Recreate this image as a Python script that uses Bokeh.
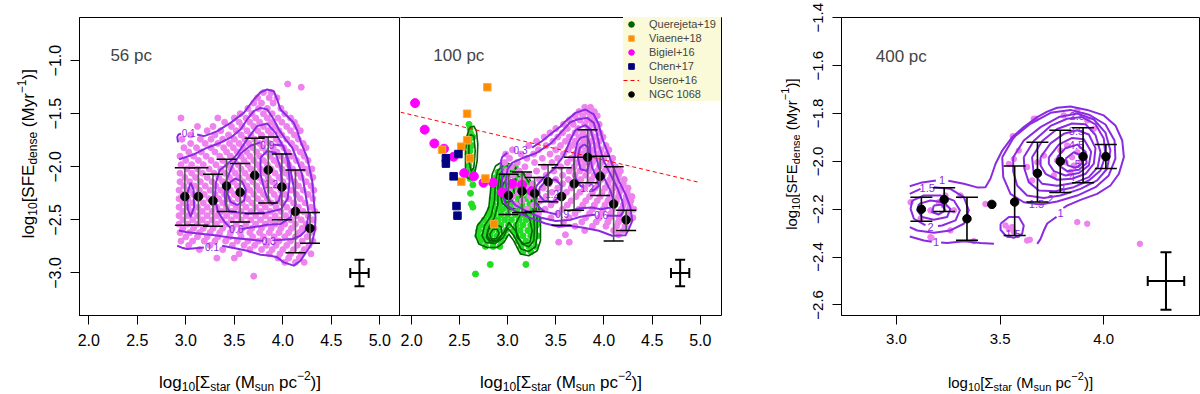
import numpy as np
from bokeh.plotting import figure
from bokeh.models import (ColumnDataSource, Whisker, TeeHead, Label, Legend, LegendItem,
                          FixedTicker, CustomJSTickFormatter, LinearAxis)
from bokeh.layouts import row, column
from bokeh.embed import file_html
from bokeh.resources import INLINE
from bokeh.core.properties import value

FONT = "Liberation Sans"
PINK = "#EE82EE"
PURPLE = "#8A2BE2"
DKGREEN = "#006400"
LTGREEN = "#22DD22"

# ---------------- data: binned NGC 1068 values ----------------
p1_bin_x = [2.99, 3.13, 3.28, 3.42, 3.56, 3.71, 3.85, 3.99, 4.13, 4.28]
p1_bin_y = [-2.28, -2.28, -2.32, -2.18, -2.24, -2.08, -2.03, -2.19, -2.42, -2.58]
p1_err_hi = [-2.01, -2.01, -2.07, -1.93, -1.97, -1.73, -1.72, -1.88, -2.03, -2.43]
p1_err_lo = [-2.55, -2.55, -2.56, -2.42, -2.52, -2.44, -2.34, -2.50, -2.81, -2.72]

p2_bin_x = [3.01, 3.15, 3.28, 3.42, 3.56, 3.69, 3.83, 3.96, 4.10, 4.23]
p2_bin_y = [-2.27, -2.23, -2.25, -2.14, -2.28, -2.16, -1.91, -2.09, -2.35, -2.50]
p2_err_hi = [-2.07, -2.05, -2.10, -1.98, -2.01, -1.91, -1.65, -1.90, -2.00, -2.41]
p2_err_lo = [-2.45, -2.43, -2.42, -2.33, -2.55, -2.41, -2.15, -2.27, -2.70, -2.60]

p3_bin_x = [3.12, 3.23, 3.34, 3.46, 3.57, 3.68, 3.79, 3.90, 4.01]
p3_bin_y = [-2.20, -2.16, -2.24, -2.18, -2.17, -2.05, -2.00, -1.98, -1.98]
p3_err_x = [3.12, 3.23, 3.34, 3.57, 3.68, 3.79, 3.90, 4.01]
p3_err_hi = [-2.15, -2.11, -2.15, -2.02, -1.92, -1.87, -1.86, -1.93]
p3_err_lo = [-2.25, -2.21, -2.33, -2.31, -2.17, -2.13, -2.09, -2.03]

# typical uncertainty crosses
cross12 = dict(x=4.79, y=-3.0, dx=0.095, dy=0.125)
cross3 = dict(x=4.30, y=-2.50, dx=0.088, dy=0.12)

# ---------------- literature data (100 pc panel) ----------------
bigiel_x = [2.04, 2.14, 2.24, 2.34, 2.44, 2.55, 2.65, 2.75, 2.85, 2.94, 3.05, 3.15, 3.25]
bigiel_y = [-1.40, -1.65, -1.78, -1.83, -1.905, -2.06, -2.09, -2.15, -2.15, -2.24, -2.16, -2.17, -2.23]
viaene_x = [2.79, 2.58, 2.58, 2.52, 2.32, 2.61, 2.52, 2.77, 2.86]
viaene_y = [-1.25, -1.50, -1.75, -1.81, -1.84, -1.92, -2.14, -2.11, -2.54]
chen_x = [2.49, 2.36, 2.36, 2.44, 2.47, 2.48]
chen_y = [-1.88, -1.92, -1.97, -2.09, -2.37, -2.46]
usero_x = [1.89, 4.97]
usero_y = [-1.486, -2.143]

quer_strip_x = [2.60, 2.61, 2.62, 2.60, 2.63, 2.61, 2.59, 2.62, 2.60, 2.63, 2.61, 2.64, 2.615, 2.625, 2.64, 2.667, 2.58, 2.64, 2.58]
quer_strip_y = [-1.60, -1.64, -1.69, -1.75, -1.80, -1.85, -1.88, -1.93, -1.99, -2.04, -2.11, -2.17, -2.25, -2.35, -2.38, -3.01, -1.80, -1.72, -2.05]
quer_rows = [
    (-2.00, [2.95, 3.02, 3.08]),
    (-2.05, [2.90, 2.97, 3.05, 3.12]),
    (-2.10, [2.88, 2.94, 3.00, 3.08, 3.16]),
    (-2.15, [2.86, 2.92, 2.99, 3.05, 3.13, 3.20]),
    (-2.20, [2.85, 2.91, 2.97, 3.03, 3.10, 3.18, 3.25]),
    (-2.25, [2.86, 2.93, 3.00, 3.07, 3.14, 3.22, 3.28]),
    (-2.30, [2.84, 2.90, 2.96, 3.03, 3.11, 3.19, 3.27]),
    (-2.35, [2.85, 2.92, 2.99, 3.06, 3.15, 3.23, 3.30]),
    (-2.40, [2.82, 2.89, 2.95, 3.02, 3.10, 3.18, 3.26, 3.31]),
    (-2.45, [2.80, 2.86, 2.93, 3.00, 3.08, 3.15, 3.22, 3.29]),
    (-2.50, [2.76, 2.83, 2.90, 2.97, 3.04, 3.12, 3.19, 3.27, 3.32]),
    (-2.55, [2.72, 2.79, 2.86, 2.93, 3.01, 3.09, 3.16, 3.24, 3.30]),
    (-2.60, [2.70, 2.77, 2.84, 2.91, 2.98, 3.06, 3.13, 3.21, 3.28]),
    (-2.65, [2.69, 2.75, 2.82, 2.89, 2.96, 3.09, 3.16, 3.24, 3.31]),
    (-2.70, [2.72, 2.79, 2.86, 2.93, 3.11, 3.19, 3.27]),
    (-2.75, [2.77, 2.85, 2.92, 3.14, 3.22, 3.29]),
    (-2.80, [3.16, 3.24]),
    (-2.92, [2.82, 3.19]),
]

# ---------------- NGC 1068 pixel values (pink clouds) ----------------
p1_pink_rows = [
    (-1.22, [4.05]), (-1.25, [4.19]), (-1.30, [3.80, 3.88]),
    (-1.35, [3.74, 3.86, 3.94]), (-1.40, [3.70, 3.78, 3.90]),
    (-1.45, [3.64, 3.75, 3.84, 3.98]), (-1.50, [3.56, 3.68, 3.80, 3.89, 4.02]),
    (-1.54, [2.95, 3.33, 3.50, 3.62, 3.72, 3.84, 3.95, 4.08]),
    (-1.58, [3.40, 3.55, 3.66, 3.76, 3.88, 3.99, 4.12]),
    (-1.62, [3.12, 3.28, 3.47, 3.58, 3.70, 3.80, 3.92, 4.04, 4.14]),
    (-1.66, [3.22, 3.36, 3.52, 3.63, 3.74, 3.85, 3.96, 4.08, 4.18]),
    (-1.70, [3.05, 3.30, 3.44, 3.57, 3.67, 3.78, 3.88, 3.99, 4.12]),
    (-1.74, [2.96, 3.15, 3.26, 3.38, 3.50, 3.61, 3.71, 3.82, 3.93, 4.04, 4.16]),
    (-1.78, [3.05, 3.20, 3.33, 3.45, 3.55, 3.65, 3.76, 3.86, 3.97, 4.09, 4.21]),
    (-1.82, [2.98, 3.11, 3.26, 3.39, 3.49, 3.59, 3.69, 3.79, 3.90, 4.01, 4.13, 4.24]),
    (-1.86, [3.03, 3.16, 3.30, 3.42, 3.53, 3.63, 3.73, 3.83, 3.94, 4.05, 4.18]),
    (-1.90, [2.94, 3.08, 3.21, 3.35, 3.46, 3.57, 3.66, 3.76, 3.87, 3.98, 4.09, 4.22]),
    (-1.94, [3.00, 3.13, 3.26, 3.38, 3.50, 3.60, 3.70, 3.80, 3.91, 4.02, 4.14, 4.26]),
    (-1.98, [2.95, 3.06, 3.18, 3.31, 3.43, 3.54, 3.64, 3.74, 3.84, 3.95, 4.06, 4.19]),
    (-2.02, [3.01, 3.12, 3.24, 3.36, 3.47, 3.57, 3.67, 3.77, 3.88, 3.99, 4.10, 4.23, 4.30]),
    (-2.06, [2.94, 3.06, 3.17, 3.29, 3.40, 3.51, 3.61, 3.71, 3.81, 3.92, 4.03, 4.15, 4.27]),
    (-2.10, [2.99, 3.10, 3.22, 3.34, 3.45, 3.55, 3.65, 3.75, 3.85, 3.96, 4.07, 4.19, 4.31]),
    (-2.14, [2.94, 3.04, 3.15, 3.27, 3.38, 3.49, 3.59, 3.69, 3.79, 3.89, 4.00, 4.12, 4.24]),
    (-2.18, [2.98, 3.09, 3.20, 3.31, 3.42, 3.53, 3.63, 3.73, 3.83, 3.93, 4.04, 4.16, 4.29]),
    (-2.22, [2.93, 3.03, 3.14, 3.25, 3.36, 3.46, 3.56, 3.66, 3.76, 3.87, 3.98, 4.09, 4.21, 4.32]),
    (-2.26, [2.97, 3.08, 3.19, 3.30, 3.40, 3.50, 3.60, 3.70, 3.80, 3.91, 4.02, 4.14, 4.26]),
    (-2.30, [2.93, 3.02, 3.13, 3.24, 3.34, 3.44, 3.54, 3.64, 3.74, 3.84, 3.95, 4.06, 4.18, 4.31]),
    (-2.34, [2.97, 3.07, 3.18, 3.28, 3.38, 3.48, 3.58, 3.68, 3.78, 3.88, 3.99, 4.11, 4.23]),
    (-2.38, [2.93, 3.02, 3.12, 3.22, 3.32, 3.42, 3.52, 3.62, 3.72, 3.82, 3.93, 4.04, 4.16, 4.29]),
    (-2.42, [2.97, 3.07, 3.17, 3.27, 3.37, 3.47, 3.57, 3.67, 3.77, 3.87, 3.98, 4.09, 4.21, 4.33]),
    (-2.46, [2.93, 3.02, 3.12, 3.22, 3.32, 3.42, 3.52, 3.62, 3.72, 3.82, 3.92, 4.03, 4.14, 4.26]),
    (-2.50, [2.97, 3.07, 3.17, 3.27, 3.37, 3.47, 3.57, 3.67, 3.77, 3.87, 3.97, 4.08, 4.19, 4.31]),
    (-2.54, [2.93, 3.02, 3.12, 3.22, 3.32, 3.42, 3.52, 3.62, 3.72, 3.82, 3.92, 4.02, 4.13, 4.24]),
    (-2.58, [2.97, 3.08, 3.18, 3.28, 3.38, 3.48, 3.58, 3.68, 3.78, 3.88, 3.98, 4.09, 4.20, 4.32]),
    (-2.62, [2.94, 3.04, 3.14, 3.25, 3.35, 3.46, 3.56, 3.66, 3.76, 3.86, 3.96, 4.06, 4.17, 4.28]),
    (-2.66, [3.00, 3.12, 3.22, 3.33, 3.45, 3.57, 3.69, 3.80, 3.91, 4.02, 4.13, 4.25]),
    (-2.70, [2.95, 3.07, 3.19, 3.30, 3.41, 3.53, 3.64, 3.75, 3.85, 3.96, 4.08, 4.20, 4.31]),
    (-2.74, [3.03, 3.25, 3.48, 3.60, 3.71, 3.83, 3.93, 4.04, 4.15, 4.27]),
    (-2.78, [3.14, 3.38, 3.66, 3.78, 3.89, 4.00, 4.11, 4.22]),
    (-2.82, [3.55, 3.86, 3.97, 4.08, 4.19, 4.29]),
    (-2.86, [3.32, 3.50, 3.95, 4.06, 4.17]),
    (-2.90, [4.02, 4.13, 4.22]),
    (-3.03, [3.70]),
]

p2_pink_rows = [
    (-1.44, [3.80, 3.86]), (-1.48, [3.74, 3.82, 3.90]),
    (-1.52, [3.70, 3.78, 3.86, 3.93]), (-1.56, [3.64, 3.75, 3.83, 3.90]),
    (-1.60, [3.58, 3.68, 3.80, 3.88, 3.95]), (-1.64, [3.50, 3.62, 3.73, 3.84, 3.92]),
    (-1.68, [3.44, 3.57, 3.70, 3.78, 3.86, 3.96]),
    (-1.72, [3.38, 3.52, 3.64, 3.74, 3.82, 3.90, 3.99]),
    (-1.76, [3.30, 3.47, 3.60, 3.70, 3.79, 3.87, 3.95]),
    (-1.80, [3.22, 3.40, 3.55, 3.67, 3.76, 3.84, 3.92, 4.02]),
    (-1.84, [3.05, 3.32, 3.50, 3.63, 3.73, 3.81, 3.89, 3.97, 4.05]),
    (-1.88, [2.98, 3.14, 3.27, 3.44, 3.58, 3.70, 3.78, 3.86, 3.94, 4.03]),
    (-1.92, [3.02, 3.20, 3.36, 3.52, 3.66, 3.76, 3.83, 3.91, 4.00, 4.09]),
    (-1.96, [2.97, 3.10, 3.28, 3.46, 3.62, 3.73, 3.80, 3.88, 3.97, 4.07]),
    (-2.00, [3.04, 3.18, 3.38, 3.55, 3.69, 3.78, 3.86, 3.95, 4.04, 4.12]),
    (-2.04, [2.99, 3.12, 3.30, 3.48, 3.64, 3.75, 3.84, 3.93, 4.01, 4.10, 4.17]),
    (-2.08, [3.06, 3.22, 3.40, 3.57, 3.70, 3.81, 3.90, 3.99, 4.08, 4.15]),
    (-2.12, [3.00, 3.15, 3.33, 3.50, 3.63, 3.76, 3.87, 3.97, 4.06, 4.14, 4.21]),
    (-2.16, [3.08, 3.26, 3.43, 3.57, 3.71, 3.84, 3.94, 4.04, 4.12, 4.20]),
    (-2.20, [3.02, 3.19, 3.37, 3.52, 3.66, 3.80, 3.91, 4.01, 4.10, 4.18, 4.25]),
    (-2.24, [3.11, 3.30, 3.46, 3.61, 3.75, 3.88, 3.98, 4.08, 4.16, 4.24]),
    (-2.28, [3.05, 3.23, 3.40, 3.56, 3.71, 3.85, 3.96, 4.06, 4.15, 4.23, 4.29]),
    (-2.32, [3.15, 3.34, 3.50, 3.66, 3.81, 3.93, 4.04, 4.13, 4.22, 4.28]),
    (-2.36, [3.09, 3.27, 3.45, 3.62, 3.78, 3.90, 4.01, 4.11, 4.20, 4.27]),
    (-2.40, [3.20, 3.39, 3.57, 3.74, 3.88, 3.99, 4.09, 4.18, 4.26, 4.31]),
    (-2.44, [3.32, 3.52, 3.70, 3.85, 3.97, 4.07, 4.17, 4.25]),
    (-2.48, [3.45, 3.64, 3.81, 3.95, 4.06, 4.16, 4.24, 4.30]),
    (-2.52, [3.58, 3.77, 3.92, 4.04, 4.15, 4.23]),
    (-2.56, [3.70, 3.88, 4.02, 4.13, 4.22]),
    (-2.60, [3.80, 4.10, 4.20]),
    (-2.64, [3.60, 4.15]),
    (-2.71, [3.53, 3.64]),
]

p3_pink_x = [3.068, 3.116, 3.164, 3.204, 3.236, 3.228, 3.260, 3.277, 3.164, 3.309, 3.429, 3.453,
             3.526, 3.542, 3.558, 3.566, 3.630, 3.542, 3.566, 3.590, 3.630, 3.654, 3.662, 3.679,
             3.711, 3.759, 3.775, 3.791, 3.815, 3.823, 3.847, 3.855, 3.872, 3.888, 3.839, 3.807,
             3.872, 3.920, 3.952, 3.872, 3.920, 4.174, 3.561, 3.671, 3.643, 3.169, 3.373]
p3_pink_y = [-2.171, -2.240, -2.205, -2.171, -2.143, -2.185, -2.289, -2.205, -2.317, -2.143, -2.178, -2.178,
             -2.268, -2.282, -2.275, -2.294, -2.331, -2.011, -1.990, -1.955, -2.024, -2.080, -1.822, -2.004,
             -1.976, -2.059, -1.997, -1.955, -2.004, -1.934, -1.983, -2.018, -1.962, -2.004, -2.045, -1.808,
             -1.787, -1.829, -1.864, -2.254, -2.261, -2.345, -1.895, -1.822, -2.328, -2.320, -2.334]

# ---------------- density contours (level, path) ----------------
p1_contours = [
    (0.1, [(2.920, -1.770), (2.912, -1.720), (2.925, -1.695), (2.950, -1.688)]),
    (0.1, [(3.117, -1.695), (3.186, -1.711), (3.255, -1.690), (3.324, -1.664), (3.461, -1.586), (3.598, -1.492),
           (3.701, -1.366), (3.770, -1.298), (3.839, -1.272), (3.907, -1.288), (3.942, -1.366), (3.976, -1.460),
           (4.045, -1.523), (4.113, -1.586), (4.148, -1.660), (4.182, -1.758), (4.251, -1.915), (4.303, -2.133),
           (4.320, -2.321), (4.337, -2.477), (4.330, -2.600), (4.300, -2.720), (4.251, -2.791), (4.182, -2.885),
           (4.113, -2.931), (4.010, -2.900), (3.942, -2.853), (3.873, -2.838), (3.770, -2.828), (3.633, -2.791),
           (3.495, -2.765), (3.375, -2.744)]),
    (0.1, [(3.186, -2.760), (3.100, -2.768), (3.014, -2.775), (2.960, -2.762), (2.911, -2.744)]),
    (0.3, [(2.930, -2.600), (3.000, -2.615), (3.150, -2.630), (3.300, -2.645), (3.450, -2.665), (3.600, -2.680),
           (3.750, -2.695), (3.800, -2.697)]),
    (0.3, [(3.910, -2.692), (4.000, -2.688), (4.100, -2.680), (4.182, -2.650), (4.234, -2.603), (4.268, -2.446),
           (4.234, -2.258), (4.199, -2.070), (4.131, -1.898), (4.096, -1.820), (4.028, -1.742), (3.959, -1.648),
           (3.907, -1.554), (3.839, -1.460), (3.770, -1.445), (3.701, -1.476), (3.632, -1.554), (3.564, -1.648),
           (3.461, -1.726), (3.357, -1.773), (3.220, -1.820), (3.083, -1.883), (2.979, -1.915), (2.930, -1.930)]),
    (0.6, [(3.580, -2.585), (3.650, -2.575), (3.760, -2.560), (3.838, -2.546), (3.976, -2.540), (4.079, -2.477),
           (4.131, -2.352), (4.113, -2.196), (4.062, -1.945), (4.010, -1.820), (3.924, -1.679), (3.839, -1.592),
           (3.735, -1.617), (3.632, -1.742), (3.529, -1.883), (3.426, -1.977), (3.350, -2.030), (3.310, -2.150),
           (3.300, -2.300), (3.330, -2.420), (3.400, -2.520), (3.460, -2.575)]),
    (0.6, [(3.050, -2.150), (3.080, -2.220), (3.085, -2.380), (3.050, -2.470), (3.020, -2.400), (3.015, -2.250),
           (3.050, -2.150)]),
    (0.9, [(3.900, -1.790), (4.000, -1.800), (4.050, -1.940), (4.070, -2.130), (4.050, -2.300), (3.980, -2.400),
           (3.840, -2.430), (3.640, -2.440), (3.450, -2.420), (3.410, -2.360), (3.400, -2.250), (3.420, -2.120),
           (3.480, -1.990), (3.570, -1.870), (3.670, -1.800), (3.770, -1.770)]),
    (1.2, [(3.770, -1.914), (3.838, -1.851), (3.924, -1.867), (3.976, -2.008), (3.993, -2.196), (3.959, -2.321),
           (3.890, -2.352), (3.838, -2.290), (3.804, -2.196), (3.770, -2.070), (3.770, -1.914)]),
    (1.2, [(3.450, -2.150), (3.510, -2.110), (3.580, -2.140), (3.620, -2.220), (3.600, -2.320), (3.530, -2.360),
           (3.460, -2.330), (3.430, -2.250), (3.450, -2.150)]),
]
p1_clabels = [("0.1", 3.03, -1.68), ("0.1", 3.27, -2.755), ("0.3", 3.855, -2.70),
              ("0.6", 3.52, -2.588), ("0.9", 3.84, -1.79), ("1.2", 3.88, -2.16)]

p2_contours = [
    (0.3, [(2.930, -1.950), (2.944, -1.908), (2.996, -1.867)]),
    (0.3, [(3.255, -1.820), (3.359, -1.757), (3.463, -1.679), (3.549, -1.620), (3.601, -1.570), (3.704, -1.492),
           (3.808, -1.460), (3.894, -1.507), (3.946, -1.601), (3.981, -1.727), (4.033, -1.852), (4.085, -1.977),
           (4.154, -2.133), (4.223, -2.258), (4.275, -2.384), (4.293, -2.509), (4.257, -2.587), (4.223, -2.645),
           (4.085, -2.649), (3.947, -2.603), (3.774, -2.571), (3.636, -2.556), (3.532, -2.565), (3.393, -2.534),
           (3.221, -2.477), (3.082, -2.421), (2.979, -2.352), (2.937, -2.227), (2.944, -2.070), (2.930, -1.950)]),
    (0.6, [(3.000, -2.020), (3.050, -1.960), (3.150, -1.920), (3.300, -1.870), (3.450, -1.780), (3.580, -1.650),
           (3.650, -1.580), (3.722, -1.554), (3.826, -1.539), (3.894, -1.586), (3.929, -1.695), (3.957, -1.821),
           (3.998, -1.946), (4.067, -2.070), (4.137, -2.196), (4.189, -2.321), (4.206, -2.415), (4.171, -2.462),
           (4.067, -2.462), (4.030, -2.458)]),
    (0.6, [(3.910, -2.452), (3.877, -2.453), (3.756, -2.470), (3.650, -2.500), (3.500, -2.510), (3.350, -2.480),
           (3.200, -2.420), (3.080, -2.360), (3.000, -2.280), (2.980, -2.150), (3.000, -2.020)]),
    (0.9, [(3.739, -1.633), (3.808, -1.608), (3.860, -1.648), (3.894, -1.758), (3.912, -1.883), (3.946, -2.008),
           (4.016, -2.133), (4.067, -2.227), (4.102, -2.321), (4.067, -2.384), (3.964, -2.399), (3.877, -2.384),
           (3.750, -2.390), (3.620, -2.420)]),
    (0.9, [(3.510, -2.450), (3.380, -2.420), (3.300, -2.360), (3.270, -2.280), (3.300, -2.180), (3.380, -2.100),
           (3.480, -2.020), (3.580, -1.900), (3.650, -1.750), (3.700, -1.660), (3.739, -1.633)]),
    (1.2, [(3.756, -1.727), (3.826, -1.711), (3.853, -1.789), (3.860, -1.914), (3.877, -2.008), (3.929, -2.117),
           (3.946, -2.180), (3.894, -2.221), (3.870, -2.215)]),
    (1.2, [(3.780, -2.190), (3.756, -2.180), (3.704, -2.102), (3.687, -1.977), (3.704, -1.852), (3.722, -1.774),
           (3.756, -1.727)]),
    (1.2, [(3.330, -2.200), (3.400, -2.130), (3.500, -2.120), (3.560, -2.180), (3.550, -2.280), (3.470, -2.330),
           (3.380, -2.320), (3.330, -2.270), (3.330, -2.200)]),
    (1.5, [(3.791, -1.789), (3.843, -1.820), (3.853, -1.946), (3.826, -2.039), (3.756, -2.023), (3.729, -1.914),
           (3.749, -1.820), (3.791, -1.789)]),
]
p2_clabels = [("0.3", 3.134, -1.845), ("0.6", 3.970, -2.450), ("0.9", 3.566, -2.445),
              ("1.2", 3.826, -2.200), ("1.2", 3.463, -2.252)]

quer_contours = [
    [(2.944, -1.952), (2.875, -1.992), (2.840, -2.070), (2.823, -2.227), (2.805, -2.384), (2.753, -2.478),
     (2.685, -2.556), (2.667, -2.650), (2.701, -2.728), (2.788, -2.760), (2.892, -2.760), (2.961, -2.713),
     (3.012, -2.634), (3.064, -2.697), (3.134, -2.822), (3.220, -2.838), (3.307, -2.791), (3.341, -2.697),
     (3.341, -2.540), (3.324, -2.384), (3.289, -2.227), (3.220, -2.102), (3.134, -2.039), (3.030, -1.977),
     (2.944, -1.952)],
    [(2.961, -1.983), (2.899, -2.033), (2.874, -2.134), (2.864, -2.321), (2.829, -2.462), (2.760, -2.556),
     (2.736, -2.650), (2.771, -2.713), (2.874, -2.722), (2.954, -2.666), (3.002, -2.578), (3.065, -2.650),
     (3.141, -2.775), (3.220, -2.797), (3.289, -2.753), (3.307, -2.650), (3.307, -2.509), (3.289, -2.337),
     (3.248, -2.181), (3.168, -2.071), (3.065, -2.008), (2.961, -1.983)],
    [(2.968, -2.024), (2.919, -2.071), (2.899, -2.196), (2.899, -2.353), (2.864, -2.478), (2.805, -2.572),
     (2.788, -2.650), (2.822, -2.697), (2.892, -2.691), (2.961, -2.619), (3.013, -2.525), (3.082, -2.603),
     (3.151, -2.728), (3.220, -2.753), (3.272, -2.697), (3.279, -2.572), (3.265, -2.384), (3.220, -2.212),
     (3.134, -2.102), (3.047, -2.046), (2.968, -2.024)],
    [(2.978, -2.065), (2.933, -2.118), (2.919, -2.227), (2.943, -2.337), (3.013, -2.400), (3.099, -2.384),
     (3.134, -2.290), (3.116, -2.165), (3.058, -2.087), (2.978, -2.065)],
    [(2.857, -2.540), (2.795, -2.597), (2.781, -2.666), (2.822, -2.713), (2.899, -2.697), (2.943, -2.634),
     (2.933, -2.565), (2.857, -2.540)],
    [(2.978, -2.118), (2.947, -2.181), (2.947, -2.274), (2.988, -2.337), (3.047, -2.321), (3.071, -2.243),
     (3.047, -2.149), (2.978, -2.118)],
    [(2.850, -2.587), (2.816, -2.634), (2.829, -2.681), (2.885, -2.675), (2.912, -2.628), (2.892, -2.587),
     (2.850, -2.587)],
    [(3.134, -2.447), (3.082, -2.540), (3.099, -2.666), (3.168, -2.728), (3.230, -2.713), (3.255, -2.603),
     (3.230, -2.494), (3.186, -2.440), (3.134, -2.447)],
    [(2.598, -1.648), (2.574, -1.726), (2.563, -1.851), (2.563, -2.008), (2.581, -2.102), (2.615, -2.117),
     (2.657, -2.070), (2.684, -1.945), (2.691, -1.789), (2.677, -1.664), (2.650, -1.617), (2.615, -1.626),
     (2.598, -1.648)],
    [(2.615, -1.695), (2.598, -1.789), (2.598, -1.945), (2.622, -2.039), (2.650, -2.008), (2.664, -1.851),
     (2.650, -1.711), (2.615, -1.695)],
]

p3_contours = [
    (1, [(3.064, -2.104), (3.116, -2.090), (3.190, -2.080)]),
    (1, [(3.250, -2.081), (3.269, -2.084), (3.325, -2.094), (3.389, -2.109), (3.429, -2.108), (3.453, -2.073),
         (3.478, -2.010), (3.510, -1.955), (3.558, -1.899), (3.614, -1.857), (3.679, -1.815), (3.727, -1.792),
         (3.775, -1.776), (3.839, -1.771), (3.920, -1.785), (4.000, -1.808), (4.056, -1.850), (4.089, -1.913),
         (4.097, -1.982), (4.073, -2.052), (4.032, -2.101), (3.968, -2.136), (3.888, -2.161), (3.823, -2.185),
         (3.805, -2.195)]),
    (1, [(3.772, -2.232), (3.759, -2.240), (3.727, -2.260), (3.711, -2.289), (3.695, -2.324), (3.679, -2.345)]),
    (1, [(3.064, -2.314), (3.132, -2.331), (3.170, -2.336)]),
    (1, [(3.215, -2.339), (3.244, -2.341), (3.325, -2.334), (3.405, -2.341), (3.470, -2.345)]),
    (1.5, [(3.064, -2.136), (3.116, -2.115)]),
    (1.5, [(3.180, -2.108), (3.260, -2.115), (3.325, -2.150), (3.349, -2.205), (3.325, -2.261), (3.260, -2.289),
           (3.180, -2.299), (3.100, -2.289), (3.064, -2.275)]),
    (2, [(3.076, -2.164), (3.132, -2.143), (3.212, -2.143), (3.277, -2.164), (3.306, -2.205), (3.285, -2.247),
         (3.220, -2.268), (3.200, -2.270)]),
    (2, [(3.140, -2.266), (3.132, -2.264), (3.084, -2.240), (3.068, -2.199), (3.076, -2.164)]),
    (2.5, [(3.108, -2.178), (3.164, -2.164), (3.228, -2.171), (3.260, -2.199), (3.244, -2.233), (3.180, -2.244),
           (3.124, -2.233), (3.100, -2.205), (3.108, -2.178)]),
    (3, [(3.180, -2.185), (3.220, -2.181), (3.236, -2.205), (3.204, -2.222), (3.172, -2.213), (3.180, -2.185)]),
    (1.5, [(3.502, -2.261), (3.542, -2.233), (3.590, -2.233), (3.614, -2.268), (3.606, -2.303), (3.566, -2.320),
           (3.526, -2.310), (3.502, -2.286), (3.502, -2.261)]),
    (1.5, [(3.510, -1.983), (3.566, -1.899), (3.646, -1.843), (3.743, -1.797), (3.839, -1.785), (3.928, -1.805),
           (4.008, -1.846), (4.052, -1.913), (4.056, -1.989), (4.024, -2.059), (3.960, -2.108), (3.872, -2.143),
           (3.775, -2.168), (3.695, -2.180), (3.614, -2.171), (3.550, -2.136), (3.515, -2.066), (3.510, -1.983)]),
    (2, [(3.563, -1.983), (3.614, -1.913), (3.695, -1.857), (3.783, -1.815), (3.872, -1.800), (3.952, -1.825),
         (4.008, -1.880), (4.032, -1.955), (4.016, -2.031), (3.968, -2.080), (3.888, -2.115), (3.791, -2.143),
         (3.711, -2.153), (3.630, -2.143), (3.582, -2.101), (3.563, -2.041), (3.563, -1.983)]),
    (2.5, [(3.614, -1.983), (3.662, -1.915), (3.743, -1.852), (3.823, -1.822), (3.896, -1.815), (3.960, -1.845),
           (4.000, -1.905), (4.008, -1.976), (3.984, -2.038), (3.928, -2.080), (3.855, -2.108), (3.767, -2.125),
           (3.687, -2.122), (3.638, -2.087), (3.617, -2.031), (3.614, -1.983)]),
    (3, [(3.654, -1.983), (3.703, -1.915), (3.775, -1.865), (3.847, -1.842), (3.912, -1.845), (3.960, -1.890),
         (3.984, -1.962), (3.971, -2.024), (3.928, -2.066), (3.855, -2.091), (3.775, -2.102), (3.703, -2.094),
         (3.662, -2.052), (3.654, -1.983)]),
    (3.5, [(3.695, -1.983), (3.743, -1.925), (3.807, -1.885), (3.872, -1.870), (3.928, -1.888), (3.960, -1.945),
           (3.952, -2.010), (3.912, -2.052), (3.847, -2.073), (3.775, -2.077), (3.719, -2.052), (3.695, -2.017),
           (3.695, -1.983)]),
    (4, [(3.735, -1.983), (3.783, -1.930), (3.847, -1.902), (3.904, -1.908), (3.939, -1.960), (3.928, -2.017),
         (3.880, -2.049), (3.815, -2.059), (3.759, -2.041), (3.735, -2.010), (3.735, -1.983)]),
    (4.5, [(3.775, -1.983), (3.815, -1.945), (3.872, -1.930), (3.912, -1.960), (3.917, -2.008), (3.880, -2.035),
           (3.823, -2.041), (3.783, -2.017), (3.775, -1.983)]),
    (5, [(3.815, -1.989), (3.855, -1.962), (3.891, -1.975), (3.896, -2.010), (3.863, -2.027), (3.826, -2.017),
         (3.815, -1.989)]),
]
p3_clabels = [("1", 3.220, -2.080), ("1", 3.791, -2.215), ("1", 3.191, -2.338), ("1.5", 3.148, -2.112),
              ("2", 3.164, -2.275), ("1.5", 3.563, -2.303), ("1.5", 3.675, -2.180), ("2", 3.743, -2.157),
              ("3", 3.799, -2.115), ("4", 3.847, -2.066), ("5", 3.875, -2.010), ("2.5", 3.872, -1.812),
              ("3.5", 3.868, -1.874), ("4.5", 3.868, -1.931)]

legend_labels = ["Querejeta+19", "Viaene+18", "Bigiel+16", "Chen+17", "Usero+16", "NGC 1068"]
panel_titles = ["56 pc", "100 pc", "400 pc"]


# ---------------- helpers ----------------
def rows_xy(rows):
    xs, ys = [], []
    for yv, xl in rows:
        for xv in xl:
            xs.append(xv)
            ys.append(yv)
    return xs, ys


def paths_xy(paths):
    xs = [[pt[0] for pt in pth] for pth in paths]
    ys = [[pt[1] for pt in pth] for pth in paths]
    return xs, ys


CW = {'l': 222, 'o': 556, 'g': 556, '1': 556, '0': 556, '[': 278, ']': 278, 'Σ': 618, 's': 500,
      't': 278, 'a': 556, 'r': 333, ' ': 278, '(': 333, ')': 333, 'M': 833, 'u': 556, 'n': 556,
      'p': 556, 'c': 500, '−': 584, '2': 556, 'S': 667, 'F': 611, 'E': 667, 'd': 556, 'e': 556,
      'y': 500}


def tw(s, size):
    return sum(CW.get(ch, 556) for ch in s) * size / 1000.0


def rich_label(p, segs, x, y, vertical, main, small):
    widths = [tw(t, main if k == "n" else small) for t, k in segs]
    pos = -sum(widths) / 2.0
    for (t, k), w in zip(segs, widths):
        size = main if k == "n" else small
        shift = 0 if k == "n" else (-4 if k == "sub" else 7)
        lead = len(t) - len(t.lstrip(" "))
        start = pos + tw(" " * lead, size)
        txt = t.strip(" ")
        if vertical:
            lab = Label(x=x, y=y, x_offset=-shift, y_offset=start, angle=np.pi / 2,
                        text=txt, text_font=FONT, text_font_size=f"{size}px",
                        text_align="left", text_baseline="alphabetic", text_color="black")
        else:
            lab = Label(x=x, y=y, x_offset=start, y_offset=shift,
                        text=txt, text_font=FONT, text_font_size=f"{size}px",
                        text_align="left", text_baseline="alphabetic", text_color="black")
        p.add_layout(lab)
        pos += w


XLAB = [("log", "n"), ("10", "sub"), ("[Σ", "n"), ("star", "sub"), (" (M", "n"), ("sun", "sub"),
        (" pc", "n"), ("−2", "sup"), (")]", "n")]
YLAB = [("log", "n"), ("10", "sub"), ("[SFE", "n"), ("dense", "sub"), (" (Myr", "n"), ("−1", "sup"),
        (")]", "n")]

fmt = CustomJSTickFormatter(code="return (tick < 0 ? '\u2212' : '') + Math.abs(tick).toFixed(1);")


def style(p, tick_size, xticks, yticks):
    p.xgrid.visible = False
    p.ygrid.visible = False
    p.outline_line_color = "black"
    p.outline_line_width = 1
    p.background_fill_color = "white"
    p.border_fill_color = "white"
    p.xaxis.ticker = FixedTicker(ticks=xticks)
    p.xaxis.formatter = fmt
    p.xaxis.major_label_standoff = 9
    if yticks is not None:
        p.yaxis.ticker = FixedTicker(ticks=yticks)
        p.yaxis.formatter = fmt
        p.yaxis.major_label_orientation = "vertical"
        p.yaxis.major_label_standoff = 9
    for ax in p.axis:
        ax.major_tick_out = 9
        ax.major_tick_in = 0
        ax.minor_tick_line_color = None
        ax.axis_line_color = "black"
        ax.major_tick_line_color = "black"
        ax.major_label_text_font = FONT
        ax.major_label_text_font_size = tick_size
        ax.major_label_text_color = "black"


def frame_edge(p, place):
    # plain line along a frame edge (no ticks, no labels)
    ax = LinearAxis(ticker=FixedTicker(ticks=[]), major_tick_line_color=None, minor_tick_line_color=None,
                    major_label_text_font_size="0px", axis_line_color="black", axis_line_width=1)
    p.add_layout(ax, place)


def label_fig(width, height, xr, yr):
    f = figure(width=width, height=height, x_range=xr, y_range=yr, output_backend="svg",
               toolbar_location=None, x_axis_location=None, y_axis_location=None, min_border=0,
               outline_line_color=None)
    f.xgrid.visible = False
    f.ygrid.visible = False
    f.background_fill_color = "white"
    f.border_fill_color = "white"
    return f


def add_bins(p, bx, by, ex, hi, lo, cap, stem_color):
    src = ColumnDataSource(dict(base=ex, upper=hi, lower=lo))
    w = Whisker(source=src, base="base", upper="upper", lower="lower", dimension="height",
                line_color=stem_color, line_width=1.6, level="glyph",
                upper_head=TeeHead(size=cap, line_color="black", line_width=1.5),
                lower_head=TeeHead(size=cap, line_color="black", line_width=1.5))
    p.add_layout(w)
    return p.scatter(bx, by, marker="circle", size=8.5, fill_color="black", line_color="black")


def add_cross(p, c, cap_v, cap_h):
    sv = ColumnDataSource(dict(base=[c["x"]], upper=[c["y"] + c["dy"]], lower=[c["y"] - c["dy"]]))
    sh = ColumnDataSource(dict(base=[c["y"]], upper=[c["x"] + c["dx"]], lower=[c["x"] - c["dx"]]))
    p.add_layout(Whisker(source=sv, base="base", upper="upper", lower="lower", dimension="height",
                         line_color="black", line_width=2, level="glyph",
                         upper_head=TeeHead(size=cap_v, line_width=2), lower_head=TeeHead(size=cap_v, line_width=2)))
    p.add_layout(Whisker(source=sh, base="base", upper="upper", lower="lower", dimension="width",
                         line_color="black", line_width=2, level="glyph",
                         upper_head=TeeHead(size=cap_h, line_width=2), lower_head=TeeHead(size=cap_h, line_width=2)))


def add_clabels(p, labs, size):
    p.text(x=[l[1] for l in labs], y=[l[2] for l in labs], text=[l[0] for l in labs],
           text_color=PURPLE, text_font=value(FONT), text_font_size=size,
           text_align="center", text_baseline="middle")


TOP_H = 362
Y12 = (-3.4009, -0.5934)
common = dict(height=TOP_H, output_backend="svg", toolbar_location=None, min_border_top=16,
              min_border_bottom=47)

# ---------------- panel 1: 56 pc ----------------
f1 = figure(width=359, x_range=(1.904, 5.213), y_range=Y12, min_border_left=38, min_border_right=0, **common)
style(f1, "16px", [2.0, 2.5, 3.0, 3.5, 4.0, 4.5, 5.0], [-3.0, -2.5, -2.0, -1.5, -1.0])
x1, y1 = rows_xy(p1_pink_rows)
f1.scatter(x1, y1, marker="circle", size=6, fill_color=PINK, line_color=PINK)
cx, cy = paths_xy([pth for _, pth in p1_contours])
f1.multi_line(cx, cy, line_color=PURPLE, line_width=2, line_join="round")
add_clabels(f1, p1_clabels, "10px")
add_bins(f1, p1_bin_x, p1_bin_y, p1_bin_x, p1_err_hi, p1_err_lo, 20, "#555555")
add_cross(f1, cross12, 10, 10)
f1.add_layout(Label(x=2.437, y=-0.95, text=panel_titles[0], text_font=FONT, text_font_size="17px",
                    text_align="center", text_baseline="middle"))

# ---------------- panel 2: 100 pc ----------------
f2 = figure(width=360, x_range=(1.889, 5.219), y_range=Y12, y_axis_location=None,
            min_border_left=0, min_border_right=39, **common)
style(f2, "16px", [2.0, 2.5, 3.0, 3.5, 4.0, 4.5, 5.0], None)
f2.outline_line_color = None
frame_edge(f2, "above")
frame_edge(f2, "right")
gx, gy = rows_xy(quer_rows)
f2.scatter(gx + quer_strip_x, gy + quer_strip_y, marker="circle", size=6, fill_color=LTGREEN, line_color=LTGREEN)
qx, qy = paths_xy(quer_contours)
f2.multi_line(qx, qy, line_color=DKGREEN, line_width=1.6, line_join="round")
x2, y2 = rows_xy(p2_pink_rows)
f2.scatter(x2, y2, marker="circle", size=6, fill_color=PINK, line_color=PINK)
cx, cy = paths_xy([pth for _, pth in p2_contours])
f2.multi_line(cx, cy, line_color=PURPLE, line_width=2, line_join="round")
add_clabels(f2, p2_clabels, "10px")
r_b = f2.scatter(bigiel_x, bigiel_y, marker="circle", size=9, fill_color="#FF00FF", line_color="#FF00FF")
r_v = f2.scatter(viaene_x, viaene_y, marker="square", size=7.5, fill_color="#FF8C00", line_color="#FFA940")
r_c = f2.scatter(chen_x, chen_y, marker="square", size=7.5, fill_color="#000080", line_color="#000080")
r_u = f2.line(usero_x, usero_y, line_color="red", line_width=1, line_dash="4 3")
r_n = add_bins(f2, p2_bin_x, p2_bin_y, p2_bin_x, p2_err_hi, p2_err_lo, 20, "#555555")
add_cross(f2, cross12, 10, 10)
r_q = f2.scatter(np.array([np.nan]), np.array([np.nan]), marker="circle", fill_color=DKGREEN, line_color=DKGREEN)
f2.add_layout(Label(x=2.494, y=-0.95, text=panel_titles[1], text_font=FONT, text_font_size="17px",
                    text_align="center", text_baseline="middle"))
leg = Legend(items=[LegendItem(label=lab, renderers=[r]) for lab, r in
                    zip(legend_labels, [r_q, r_v, r_b, r_c, r_u, r_n])],
             location="top_right", margin=0, padding=6, spacing=0, label_height=14, glyph_height=14,
             glyph_width=16, label_width=72, label_standoff=10, label_text_font=FONT,
             label_text_font_size="11px", background_fill_color="#FAFAD8", background_fill_alpha=1.0,
             border_line_color=None)
f2.add_layout(leg)

# ---------------- panel 3: 400 pc ----------------
Y3 = (-2.6445, -1.3987)
f3 = figure(width=400, height=TOP_H, x_range=(2.7347, 4.4617), y_range=Y3, output_backend="svg",
            toolbar_location=None, min_border_left=41, min_border_right=1, min_border_top=17,
            min_border_bottom=47)
style(f3, "15px", [3.0, 3.5, 4.0], [-2.6, -2.4, -2.2, -2.0, -1.8, -1.6, -1.4])
f3.scatter(p3_pink_x, p3_pink_y, marker="circle", size=5.5, fill_color=PINK, line_color=PINK)
cx, cy = paths_xy([pth for _, pth in p3_contours])
f3.multi_line(cx, cy, line_color=PURPLE, line_width=2, line_join="round")
add_clabels(f3, p3_clabels, "11px")
add_bins(f3, p3_bin_x, p3_bin_y, p3_err_x, p3_err_hi, p3_err_lo, 22, "black")
add_cross(f3, cross3, 11, 10)
f3.add_layout(Label(x=3.023, y=-1.562, text=panel_titles[2], text_font=FONT, text_font_size="17px",
                    text_align="center", text_baseline="middle"))

# ---------------- axis-title strips (page pixel coordinates) ----------------
yl1 = label_fig(41, TOP_H, (0, 41), (TOP_H, 0))
rich_label(yl1, YLAB, 28, 165.5, True, 17, 12)
yl3 = label_fig(40, TOP_H, (760, 800), (TOP_H, 0))
rich_label(yl3, YLAB, 791, 166, True, 15, 11)
xl = label_fig(1200, 394 - TOP_H, (0, 1200), (394, TOP_H))
rich_label(xl, XLAB, 239.5, 382, False, 17, 12)
rich_label(xl, XLAB, 560.5, 382, False, 17, 12)
rich_label(xl, XLAB, 1020, 382, False, 15, 11)

layout = column(row(yl1, f1, f2, yl3, f3), xl)
open("out.html", "w").write(file_html(layout, INLINE))
